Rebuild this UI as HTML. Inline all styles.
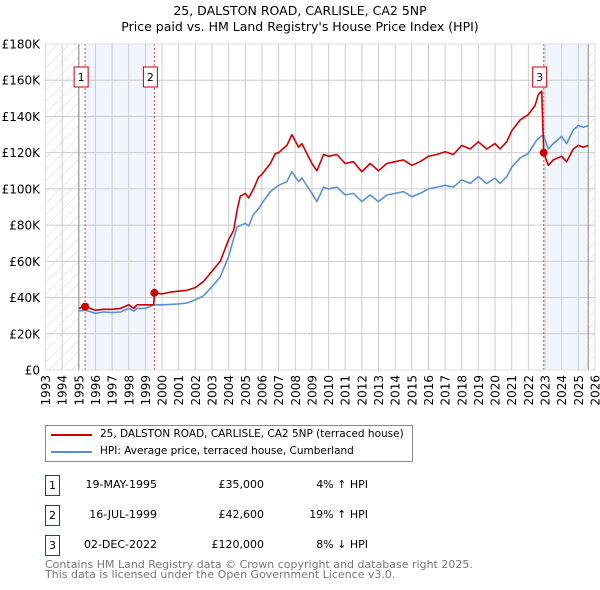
<!DOCTYPE html>
<html><head><meta charset="utf-8"><style>
body{margin:0;background:#fff;font-family:"Liberation Sans","DejaVu Sans",sans-serif;}
#wrap{position:relative;width:600px;height:590px;overflow:hidden;}
.t{font-family:"DejaVu Sans","Liberation Sans",sans-serif;}
</style></head><body>
<div id="wrap">
<svg id="chart" width="600" height="590" xmlns="http://www.w3.org/2000/svg">
<defs><pattern id="hatch" width="8" height="8" patternUnits="userSpaceOnUse" patternTransform="rotate(45)"><line x1="0" y1="0" x2="0" y2="8" stroke="#d4d4d4" stroke-width="1"/></pattern></defs>
<text x="300" y="15" text-anchor="middle" font-size="12.5" class="t">25, DALSTON ROAD, CARLISLE, CA2 5NP</text>
<text x="300" y="31" text-anchor="middle" font-size="12.5" class="t">Price paid vs. HM Land Registry's House Price Index (HPI)</text>
<g id="plot"></g>
</svg>
<div style="position:absolute;left:45px;top:425px;width:366px;height:35px;border:1px solid #888;font-size:10.5px;white-space:nowrap;" class="t">
 <div style="position:absolute;left:5px;top:8px;width:41px;height:2px;background:#cc0000"></div>
 <div style="position:absolute;left:54px;top:2px;">25, DALSTON ROAD, CARLISLE, CA2 5NP (terraced house)</div>
 <div style="position:absolute;left:5px;top:25px;width:41px;height:2px;background:#5b8fd4"></div>
 <div style="position:absolute;left:54px;top:19px;">HPI: Average price, terraced house, Cumberland</div>
</div>
<div id="table" class="t" style="font-size:11px;"></div>
<div class="t" style="position:absolute;left:45px;top:560px;font-size:11px;color:#777;line-height:10px;">Contains HM Land Registry data © Crown copyright and database right 2025.<br>This data is licensed under the Open Government Licence v3.0.</div>
</div>
<script>
const hpiYears=[1995.0,1995.4,1996,1996.5,1997,1997.5,1998,1998.3,1998.5,1999,1999.5,2000,2000.5,2001,2001.5,2002,2002.5,2003,2003.5,2004,2004.5,2005,2005.2,2005.5,2005.8,2006,2006.5,2007,2007.5,2007.8,2008.2,2008.4,2009,2009.3,2009.7,2010,2010.5,2011,2011.5,2012,2012.5,2013,2013.5,2014,2014.5,2015,2015.5,2016,2016.5,2017,2017.5,2018,2018.5,2019,2019.5,2020,2020.3,2020.7,2021,2021.5,2022,2022.5,2022.9,2023.2,2023.5,2024,2024.3,2024.7,2025,2025.3,2025.6];
const hpiValues=[32.6,33,31.3,32,31.7,32,34,32.5,34,34,36,36,36.2,36.5,37,38.7,41,46,51.5,62.6,79,81,79.5,86,89,92,98.5,102,104,109.5,104,106,97.5,93,101,100,101,96.6,97.5,93,96.6,93,96.6,97.5,98.5,95.7,97.5,100,101,102,101,105,103,106.8,103,106,103,106.8,112,117,119.6,127,130,122,125,129,125,132.5,135,134,135];
const redYears=[1995.0,1995.38,1996,1996.5,1997,1997.5,1998,1998.3,1998.5,1999,1999.5,1999.54,2000,2000.5,2001,2001.5,2002,2002.5,2003,2003.5,2004,2004.3,2004.5,2004.7,2005,2005.2,2005.5,2005.8,2006,2006.5,2006.8,2007,2007.5,2007.8,2008.2,2008.4,2009,2009.3,2009.7,2010,2010.5,2011,2011.5,2012,2012.5,2013,2013.5,2014,2014.5,2015,2015.5,2016,2016.5,2017,2017.5,2018,2018.5,2019,2019.5,2020,2020.3,2020.7,2021,2021.5,2022,2022.4,2022.6,2022.8,2022.92,2023.2,2023.5,2024,2024.3,2024.7,2025,2025.3,2025.6];
const redValues=[34,35,33,33.5,33.5,34,36,34,36,36,36,42.6,42,43,43.5,44,45.5,49,54.5,60,72,77,88,96,97.5,95,100,106.5,108,114,119.5,120,124,130,123,125,114,110,119,118,119,114,115,109.5,114,110,114,115,116,113,115,118,119,120.5,119,124,122,126,122,125,122,126,132,138,141,146,152,154,120,113,116,118,115,122,124,123,124];
const yTicks=[0,20,40,60,80,100,120,140,160,180];
const yTickLabels=["£0","£20K","£40K","£60K","£80K","£100K","£120K","£140K","£160K","£180K"];
const xTicks=[];for(let y=1993;y<=2026;y++)xTicks.push(y);
const saleYears=[1995.38,1999.54,2022.92];
const saleValues=[35,42.6,120];
const saleLabels=["1","2","3"];
const saleDates=["19-MAY-1995","16-JUL-1999","02-DEC-2022"];
const salePrices=["£35,000","£42,600","£120,000"];
const saleHpi=["4% ↑ HPI","19% ↑ HPI","8% ↓ HPI"];

const X0=45.5,PX=16.65,Y0=370,PY=326/180,TOP=44,RIGHT=595;
const xs=y=>X0+(y-1993)*PX, ys=v=>Y0-v*PY;
const NS="http://www.w3.org/2000/svg";
const g=document.getElementById('plot');
function mk(t,a){const e=document.createElementNS(NS,t);for(const k in a)e.setAttribute(k,a[k]);g.appendChild(e);return e;}
let e;
e=mk('rect',{x:xs(1993),y:TOP,width:xs(1995)-xs(1993),height:Y0-TOP,fill:'url(#hatch)'});


e=mk('rect',{x:xs(2025.6),y:TOP,width:RIGHT-xs(2025.6),height:Y0-TOP,fill:'url(#hatch)'});


e=mk('rect',{x:xs(saleYears[0]),y:TOP,width:xs(saleYears[1])-xs(saleYears[0]),height:Y0-TOP,fill:'#eef3fc',opacity:0.8});


e=mk('rect',{x:xs(saleYears[2]),y:TOP,width:xs(2025.6)-xs(saleYears[2]),height:Y0-TOP,fill:'#eef3fc',opacity:0.8});


yTicks.forEach((v,i)=>{
 e=mk('line',{x1:X0,x2:RIGHT,y1:ys(v),y2:ys(v),stroke:'#ccc','stroke-width':1});
 
 
 e=mk('text',{x:40,y:ys(v)+4.5,'text-anchor':'end','font-size':12,class:'t'});e.textContent=yTickLabels[i];
 
 
});
xTicks.forEach(y=>{
 e=mk('line',{x1:xs(y),x2:xs(y),y1:TOP,y2:Y0,stroke:'#ccc','stroke-width':1});
 
 
 e=mk('text',{x:0,y:0,'text-anchor':'end','font-size':12,class:'t',transform:`translate(${xs(y)+4.5},375) rotate(-90)`});e.textContent=y;
 
 
});
e=mk('line',{x1:xs(1995),x2:xs(1995),y1:TOP,y2:Y0,stroke:'#888','stroke-width':1});


e=mk('line',{x1:xs(2025.6),x2:xs(2025.6),y1:TOP,y2:Y0,stroke:'#888','stroke-width':1});


saleYears.forEach((y,i)=>{
 e=mk('line',{x1:xs(y),x2:xs(y),y1:TOP,y2:Y0,stroke:'#e05050','stroke-width':1,'stroke-dasharray':'2,2'});
 
 
});
const path=(xa,va)=>xa.map((y,i)=>(i?'L':'M')+xs(y).toFixed(1)+','+ys(va[i]).toFixed(1)).join('');
e=mk('path',{d:path(hpiYears,hpiValues),fill:'none',stroke:'#5b8fd4','stroke-width':1.6,'stroke-linejoin':'round'});


e=mk('path',{d:path(redYears,redValues),fill:'none',stroke:'#cc0000','stroke-width':1.6,'stroke-linejoin':'round'});


saleYears.forEach((y,i)=>{
 e=mk('circle',{cx:xs(y),cy:ys(saleValues[i]),r:4,fill:'#cc0000'});
 
 
 e=mk('rect',{x:xs(y)-11,y:67,width:14,height:20,fill:'#fff',stroke:'#cc0000','stroke-width':1});
 
 
 e=mk('text',{x:xs(y)-4,y:81,'text-anchor':'middle','font-size':11,class:'t'});e.textContent=saleLabels[i];
 
 
});
e=mk('rect',{x:X0,y:TOP,width:RIGHT-X0,height:Y0-TOP,fill:'none',stroke:'#ddd'});



const tb=document.getElementById('table');
saleDates.forEach((d,i)=>{
 const top=475+i*30;
 const r=document.createElement('div');
 
 
 r.style.cssText=`position:absolute;left:0;top:${top}px;width:600px;height:20px;`;
 r.innerHTML=`<div style="position:absolute;left:45px;top:0;width:13px;height:19px;border:1px solid #cc0000;text-align:center;line-height:19px">${saleLabels[i]}</div>
 <div style="position:absolute;right:443px;top:3px">${d}</div>
 <div style="position:absolute;right:336px;top:3px">${salePrices[i]}</div>
 <div style="position:absolute;right:232px;top:3px">${saleHpi[i]}</div>`;
 tb.appendChild(r);
});
</script>
</body></html>
